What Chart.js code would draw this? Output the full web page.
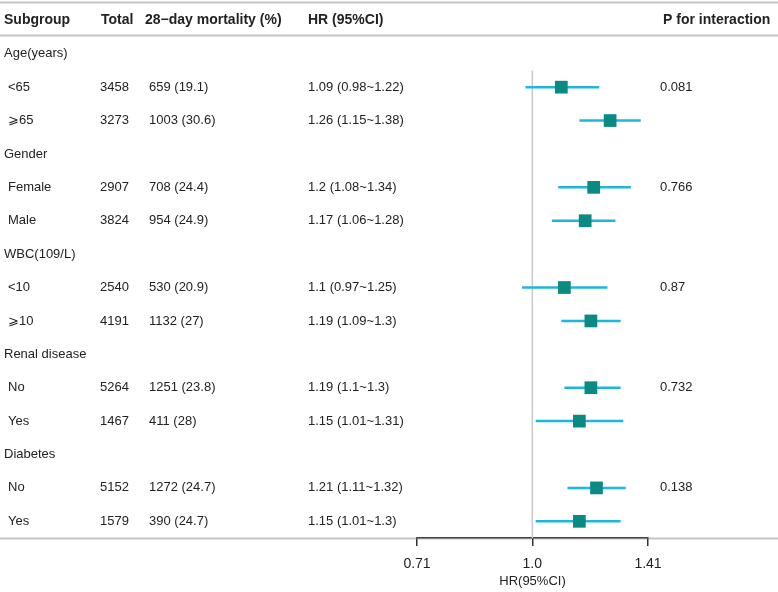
<!DOCTYPE html>
<html>
<head>
<meta charset="utf-8">
<script src="https://cdn.jsdelivr.net/npm/chart.js@4.4.1/dist/chart.umd.min.js"></script>
<style>
  html, body { margin: 0; padding: 0; background: #fff; }
  #wrap { width: 778px; height: 592px; }
</style>
</head>
<body>
<div id="wrap"><canvas id="chart"></canvas></div>
<script>
// table rows (group headings have no numbers)
const subgroups = ['Age(years)', '<65', '\u2A7E65', 'Gender', 'Female', 'Male', 'WBC(109/L)', '<10', '\u2A7E10',
                   'Renal disease', 'No', 'Yes', 'Diabetes', 'No', 'Yes'];
const totals    = [null, 3458, 3273, null, 2907, 3824, null, 2540, 4191, null, 5264, 1467, null, 5152, 1579];
const deaths    = [null, 659, 1003, null, 708, 954, null, 530, 1132, null, 1251, 411, null, 1272, 390];
const deathPct  = [null, 19.1, 30.6, null, 24.4, 24.9, null, 20.9, 27, null, 23.8, 28, null, 24.7, 24.7];
const hr        = [null, 1.09, 1.26, null, 1.2, 1.17, null, 1.1, 1.19, null, 1.19, 1.15, null, 1.21, 1.15];
const lower     = [null, 0.98, 1.15, null, 1.08, 1.06, null, 0.97, 1.09, null, 1.1, 1.01, null, 1.11, 1.01];
const upper     = [null, 1.22, 1.38, null, 1.34, 1.28, null, 1.25, 1.3, null, 1.3, 1.31, null, 1.32, 1.3];
const pInteraction = ['', '0.081', '', '', '0.766', '', '', '0.87', '', '', '0.732', '', '', '0.138', ''];

const headers = ['Subgroup', 'Total', '28\u2212day mortality (%)', 'HR (95%CI)', 'P for interaction'];
const xTicks = [0.71, 1.0, 1.41];
const xTickLabels = ['0.71', '1.0', '1.41'];

const textColor = '#222';
const ruleColor = '#c4c4c4';

// one little line per row for the confidence interval
const ciSets = [];
hr.forEach((v, i) => {
    if (v === null) return;
    ciSets.push({
        type: 'line',
        data: [{ x: lower[i], y: i }, { x: upper[i], y: i }],
        borderColor: '#1fb6de',
        borderWidth: 2.5,
        pointRadius: 0,
        order: 1
    });
});

const points = hr.map((v, i) => v === null ? null : { x: v, y: i }).filter(p => p);

// table text + rules
const tablePlugin = {
    id: 'table',
    beforeDraw(chart) {
        const ctx = chart.ctx;
        const y = chart.scales.y;
        ctx.save();
        ctx.fillStyle = '#fff';
        ctx.fillRect(0, 0, chart.width, chart.height);
        ctx.strokeStyle = ruleColor;
        ctx.lineWidth = 2;
        [-1.55, -0.55, 14.5].forEach(v => {
            const py = Math.round(y.getPixelForValue(v)) + 0.5;
            ctx.beginPath();
            ctx.moveTo(0, py);
            ctx.lineTo(chart.width, py);
            ctx.stroke();
        });
        ctx.restore();
    },
    afterDraw(chart) {
        const ctx = chart.ctx;
        const y = chart.scales.y;
        ctx.save();
        ctx.fillStyle = textColor;
        ctx.textBaseline = 'middle';
        ctx.textAlign = 'left';

        ctx.font = 'bold 14px "Liberation Sans", Arial, sans-serif';
        const hy = y.getPixelForValue(-1);
        const hx = [4, 101, 145, 308, 663];
        headers.forEach((h, k) => ctx.fillText(h, hx[k], hy));

        ctx.font = '13px "Liberation Sans", Arial, sans-serif';
        subgroups.forEach((s, i) => {
            const py = y.getPixelForValue(i);
            if (totals[i] === null) {
                ctx.fillText(s, 4, py);
                return;
            }
            ctx.fillText(s, 8, py);
            ctx.fillText(String(totals[i]), 100, py);
            ctx.fillText(deaths[i] + ' (' + deathPct[i] + ')', 149, py);
            ctx.fillText(hr[i] + ' (' + lower[i] + '~' + upper[i] + ')', 308, py);
            ctx.fillText(pInteraction[i], 660, py);
        });
        ctx.restore();
    }
};

const ctx = document.getElementById('chart').getContext('2d');
new Chart(ctx, {
    type: 'scatter',
    data: {
        datasets: [
            {
                data: points,
                pointStyle: 'rect',
                pointRadius: 9,
                pointHoverRadius: 9,
                backgroundColor: '#0b8a84',
                borderWidth: 0,
                order: 0
            },
            ...ciSets,
            {
                type: 'line',
                data: [{ x: 1, y: 0.5 }, { x: 1, y: 14.5 }],
                borderColor: '#c8c8c8',
                borderWidth: 1.5,
                pointRadius: 0,
                order: 2
            }
        ]
    },
    options: {
        responsive: true,
        maintainAspectRatio: false,
        animation: false,
        events: [],
        layout: { autoPadding: false, padding: { left: 417, right: 130, top: 2, bottom: 0 } },
        plugins: {
            legend: { display: false },
            tooltip: { enabled: false }
        },
        scales: {
            x: {
                type: 'logarithmic',
                min: 0.71,
                max: 1.41,
                afterBuildTicks: scale => { scale.ticks = xTicks.map(v => ({ value: v })); },
                afterFit: scale => { scale.height = 54; },
                ticks: {
                    color: textColor,
                    padding: 10,
                    maxRotation: 0,
                    font: { family: '"Liberation Sans", Arial, sans-serif', size: 14 },
                    callback: (v, idx) => xTickLabels[idx]
                },
                grid: {
                    drawOnChartArea: false,
                    drawTicks: true,
                    tickLength: 8,
                    color: '#333',
                    lineWidth: 1.5
                },
                border: { color: '#444', width: 1.5 },
                title: {
                    display: true,
                    text: 'HR(95%CI)',
                    color: textColor,
                    padding: { top: 0, bottom: 3 },
                    font: { family: '"Liberation Sans", Arial, sans-serif', size: 13 }
                }
            },
            y: {
                type: 'linear',
                reverse: true,
                min: -1.55,
                max: 14.5,
                display: false
            }
        }
    },
    plugins: [tablePlugin]
});
</script>
</body>
</html>
